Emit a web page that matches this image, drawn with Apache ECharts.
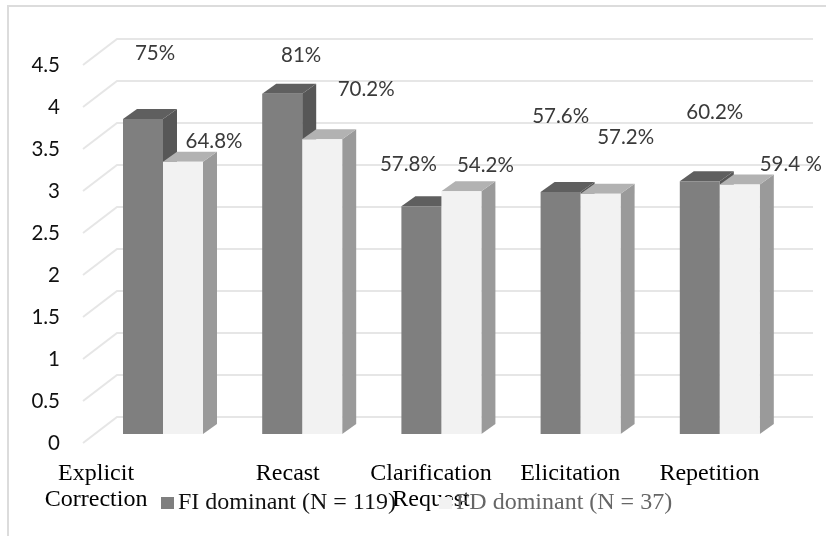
<!DOCTYPE html>
<html>
<head>
<meta charset="utf-8">
<style>
  html, body { margin: 0; padding: 0; background: #fff; }
  #chart { width: 826px; height: 536px; }
</style>
<script src="https://cdn.jsdelivr.net/npm/echarts@6/dist/echarts.min.js"></script>
</head>
<body>
<div id="chart"></div>
<script>
const categories = ["Explicit\nCorrection", "Recast", "Clarification\nRequest", "Elicitation", "Repetition"];
const tickValues = [0, 0.5, 1, 1.5, 2, 2.5, 3, 3.5, 4, 4.5];
const fiName = "FI dominant (N = 119)";
const fdName = "FD dominant (N = 37)";
const fiValues = [3.75, 4.05, 2.71, 2.88, 3.01];
const fdValues = [3.24, 3.51, 2.89, 2.86, 2.97];
const fiLabels = ["75%", "81%", "57.8%", "57.6%", "60.2%"];
const fdLabels = ["64.8%", "70.2%", "54.2%", "57.2%", "59.4 %"];

// label offset from the top of its bar, the labels were placed by hand in the original
const fiNudge = [[12, -66], [19, -38], [-13, -42], [0, -76], [15, -69]];
const fdNudge = [[31, -20], [44, -50], [24, -26], [25, -56], [51, -20]];

// fake 3d: where the bars and the back wall sit relative to the front plane
const barShift = [10.4, -9];
const barDepth = [14, -10];
const wallShift = [34, -26];
const barWidth = 40;

const chart = echarts.init(document.getElementById("chart"));

function renderGrid(params, api) {
  const rect = params.coordSys;
  const y = api.coord([0, api.value(0)])[1];
  const x0 = rect.x;
  const x1 = rect.x + wallShift[0];
  const x2 = rect.x + rect.width + wallShift[0];
  const y1 = y + wallShift[1];
  const style = { stroke: "#e6e6e6", lineWidth: 2, fill: "none" };
  return {
    type: "polyline",
    shape: { points: [[x0, y], [x1, y1], [x2, y1]] },
    style: style,
    silent: true,
  };
}

function poly(points, fill) {
  return { type: "polygon", shape: { points: points }, style: { fill: fill } };
}

function barRenderer(side, colors, labels, nudge) {
  return function (params, api) {
    const i = api.value(0);
    const top = api.coord([i, api.value(1)]);
    const base = api.coord([i, 0]);
    const l = top[0] + barShift[0] + (side < 0 ? -barWidth : 0);
    const r = l + barWidth;
    const t = top[1] + barShift[1];
    const b = base[1] + barShift[1];
    const dx = barDepth[0];
    const dy = barDepth[1];
    return {
      type: "group",
      children: [
        poly([[r, t], [r + dx, t + dy], [r + dx, b + dy], [r, b]], colors.side),
        poly([[l, t], [l + dx, t + dy], [r + dx, t + dy], [r, t]], colors.top),
        poly([[l, t], [r, t], [r, b], [l, b]], colors.front),
        {
          type: "text",
          z2: 10,
          style: {
            text: labels[i],
            x: (l + r) / 2 + nudge[i][0],
            y: t + nudge[i][1],
            align: "center",
            verticalAlign: "middle",
            fill: "#3a3a3a",
            font: "20.5px Lato",
          },
        },
      ],
    };
  };
}

const option = {
  animation: false,
  backgroundColor: "#fff",
  graphic: [
    // only the top and left edges of the frame survive in the original
    {
      type: "polyline",
      silent: true,
      z: -10,
      shape: { points: [[8, 536], [8, 6], [826, 6]] },
      style: { fill: "none", stroke: "#dcdcdc", lineWidth: 2 },
    },
  ],
  grid: { left: 83, top: 65, width: 696, height: 378 },
  legend: {
    left: 156,
    top: 486,
    itemWidth: 13,
    itemHeight: 12,
    itemGap: 43,
    icon: "rect",
    selectedMode: false,
    textStyle: { fontFamily: "Liberation Serif", fontSize: 24, padding: [0, 0, 0, -1] },
    data: [
      { name: fiName, textStyle: { color: "#111" } },
      { name: fdName, textStyle: { color: "#666" } },
    ],
  },
  xAxis: {
    type: "category",
    data: categories,
    axisLine: { show: false },
    axisTick: { show: false },
    axisLabel: {
      interval: 0,
      margin: 18,
      hideOverlap: false,
      color: "#000",
      fontFamily: "Liberation Serif",
      fontSize: 24,
      lineHeight: 26,
      formatter: function (value) {
        if (value === categories[0]) return value.split("\n").map((s) => "{first|" + s + "}").join("\n");
        if (value === categories[1]) return "{second|" + value + "}";
        return value;
      },
      rich: {
        first: { fontFamily: "Liberation Serif", fontSize: 24, lineHeight: 26, color: "#000", padding: [0, 113, 0, 0] },
        second: { fontFamily: "Liberation Serif", fontSize: 24, lineHeight: 26, color: "#000", padding: [0, 8, 0, 0] },
      },
    },
  },
  yAxis: {
    type: "value",
    min: 0,
    max: 4.5,
    interval: 0.5,
    axisLine: { show: false },
    axisTick: { show: false },
    splitLine: { show: false },
    axisLabel: {
      margin: 23,
      color: "#111",
      fontFamily: "Lato",
      fontSize: 20.5,
      formatter: (v) => String(v),
    },
  },
  series: [
    {
      type: "custom",
      name: "grid",
      z: 1,
      silent: true,
      renderItem: renderGrid,
      encode: { y: 0 },
      data: tickValues.map((v) => [v]),
      clip: false,
    },
    {
      type: "custom",
      name: fiName,
      z: 2,
      itemStyle: { color: "#7f7f7f" },
      renderItem: barRenderer(-1, { front: "#7f7f7f", top: "#5f5f5f", side: "#575757" }, fiLabels, fiNudge),
      encode: { x: 0, y: 1 },
      data: fiValues.map((v, i) => [i, v]),
      clip: false,
    },
    {
      type: "custom",
      name: fdName,
      z: 3,
      itemStyle: { color: "#f2f2f2" },
      renderItem: barRenderer(1, { front: "#f2f2f2", top: "#b2b2b2", side: "#9a9a9a" }, fdLabels, fdNudge),
      encode: { x: 0, y: 1 },
      data: fdValues.map((v, i) => [i, v]),
      clip: false,
    },
  ],
};

chart.setOption(option);
</script>
</body>
</html>
